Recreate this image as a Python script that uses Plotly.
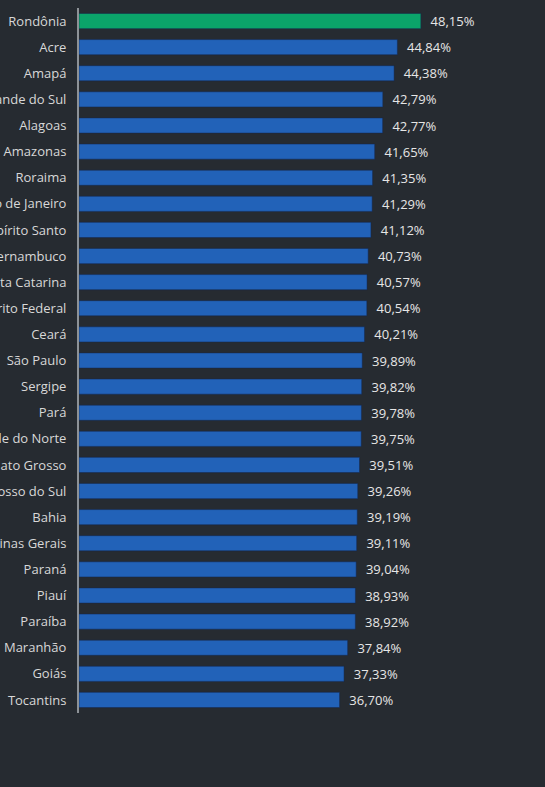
import plotly.graph_objects as go

states = ["Rondônia", "Acre", "Amapá", "Rio Grande do Sul", "Alagoas", "Amazonas", "Roraima",
          "Rio de Janeiro", "Espírito Santo", "Pernambuco", "Santa Catarina", "Distrito Federal",
          "Ceará", "São Paulo", "Sergipe", "Pará", "Rio Grande do Norte", "Mato Grosso",
          "Mato Grosso do Sul", "Bahia", "Minas Gerais", "Paraná", "Piauí", "Paraíba",
          "Maranhão", "Goiás", "Tocantins"]
values = [48.15, 44.84, 44.38, 42.79, 42.77, 41.65, 41.35, 41.29, 41.12, 40.73, 40.57, 40.54,
          40.21, 39.89, 39.82, 39.78, 39.75, 39.51, 39.26, 39.19, 39.11, 39.04, 38.93, 38.92,
          37.84, 37.33, 36.70]
labels = [f"{v:.2f}%".replace(".", ",") for v in values]

BG = "#262b31"
FONT = "Open Sans"
colors = ["#0ba46a"] + ["#2262b8"] * (len(values) - 1)

fig = go.Figure(go.Bar(
    x=values, y=states, orientation="h",
    marker=dict(color=colors, line=dict(color="rgba(20,40,80,0.5)", width=1)),
    width=0.58,
    text=labels, texttemplate="\u00a0\u00a0%{text}", textposition="outside", cliponaxis=False,
    textfont=dict(color="#e6e6e6", size=13, family=FONT),
    hoverinfo="skip",
))

fig.update_layout(
    width=545, height=787,
    paper_bgcolor=BG, plot_bgcolor=BG,
    margin=dict(l=79, r=0, t=8, b=74),
    showlegend=False,
    font=dict(family=FONT, color="#d8d8d8", size=13),
    uniformtext=dict(minsize=13, mode="show"),
)
fig.update_xaxes(range=[0, 466 / 7.1], showgrid=False, zeroline=False, showticklabels=False,
                 showline=False)
fig.update_yaxes(autorange=False, range=[len(states) - 0.5, -0.5], automargin=False,
                 showgrid=False, zeroline=False, showline=True, linecolor="#8d9297", linewidth=2,
                 ticks="", ticklabelstandoff=8, tickfont=dict(color="#d8d8d8", size=13, family=FONT))

fig.write_html("out.html", config={"displayModeBar": False},
               post_script="document.body.style.margin='0';document.body.style.background='%s';" % BG)
